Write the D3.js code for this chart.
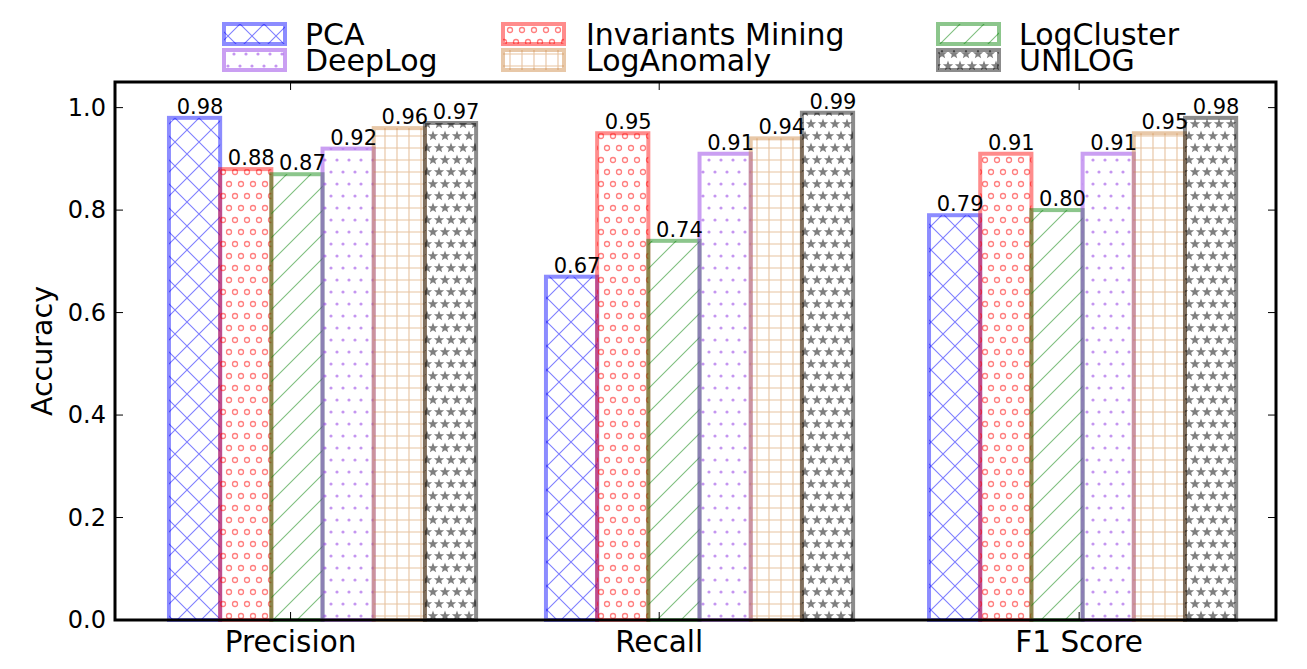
<!DOCTYPE html>
<html>
<head>
<meta charset="utf-8">
<script src="https://cdn.jsdelivr.net/npm/d3@7"></script>
<style>
  body { margin: 0; background: #fff; }
  svg { font-family: "DejaVu Sans", sans-serif; }
</style>
</head>
<body>
<svg></svg>
<script>
// chart values
const metrics = ["Precision", "Recall", "F1 Score"];
const methods = ["PCA", "Invariants Mining", "LogCluster", "DeepLog", "LogAnomaly", "UNILOG"];
const pcaVals = [0.98, 0.67, 0.79];
const invariantsVals = [0.88, 0.95, 0.91];
const logClusterVals = [0.87, 0.74, 0.80];
const deepLogVals = [0.92, 0.91, 0.91];
const logAnomalyVals = [0.96, 0.94, 0.95];
const unilogVals = [0.97, 0.99, 0.98];
const yTicks = [0.0, 0.2, 0.4, 0.6, 0.8, 1.0];
// left edge of each group and where its tick label sits (x units)
const groupPos = [0, 0.992, 2.0];
const tickPos = [0.32, 1.29, 2.395];
const barWidth = 0.1347;

const seriesVals = [pcaVals, invariantsVals, logClusterVals, deepLogVals, logAnomalyVals, unilogVals];
const colors = ["#0000ff", "#ff0000", "#008000", "#8a2be2", "#cd853f", "#000000"];
const hatches = ["x", "o", "/", ".", "+", "*"];
const alpha = 0.45;

// dimensions and margins
const margin = { top: 82, right: 31, bottom: 49, left: 115 },
      width = 1307 - margin.left - margin.right,
      height = 669 - margin.top - margin.bottom;

const svg = d3.select("svg")
    .attr("width", 1307)
    .attr("height", 669);

// hatch patterns
const defs = svg.append("defs");
function starPath(cx, cy, ro, ri) {
    let p = [];
    for (let k = 0; k < 10; k++) {
        const r = k % 2 ? ri : ro;
        const a = -Math.PI / 2 + k * Math.PI / 5;
        p.push([cx + r * Math.cos(a), cy + r * Math.sin(a)]);
    }
    return "M" + p.map(d => d.join(",")).join("L") + "Z";
}
hatches.forEach((h, i) => {
    const c = colors[i];
    const pat = defs.append("pattern")
        .attr("id", "hatch" + i)
        .attr("patternUnits", "userSpaceOnUse");
    const g = pat.append("g").attr("opacity", 0.5);
    if (h === "x") {
        pat.attr("width", 24).attr("height", 24);
        g.append("path").attr("d", "M-2,-2L26,26M26,-2L-2,26")
            .attr("stroke", c).attr("stroke-width", 1.1).attr("fill", "none");
    } else if (h === "/") {
        pat.attr("width", 24).attr("height", 24);
        g.append("path").attr("d", "M-6,6L6,-6M-2,26L26,-2M18,30L30,18")
            .attr("stroke", c).attr("stroke-width", 1.1).attr("fill", "none");
    } else if (h === "+") {
        pat.attr("width", 12).attr("height", 12);
        g.append("path").attr("d", "M0,6H12M6,0V12")
            .attr("stroke", c).attr("stroke-width", 1.1).attr("fill", "none");
    } else {
        pat.attr("width", 12).attr("height", 24);
        const pts = [[6, 6], [0, 18], [12, 18]];
        pts.forEach(([px, py]) => {
            if (h === "o") {
                g.append("circle").attr("cx", px).attr("cy", py).attr("r", 2.5)
                    .attr("fill", "none").attr("stroke", c).attr("stroke-width", 1.3);
            } else if (h === ".") {
                g.append("circle").attr("cx", px).attr("cy", py).attr("r", 1.6)
                    .attr("fill", c);
            } else {
                g.append("path").attr("d", starPath(px, py, 5.4, 2.3)).attr("fill", c);
            }
        });
    }
});

const plot = svg.append("g")
    .attr("transform", `translate(${margin.left},${margin.top})`);

// scales
const x = d3.scaleLinear()
    .domain([-0.142, 2.913])
    .range([0, width]);
const y = d3.scaleLinear()
    .domain([0, 1.05])
    .range([height, 0]);

// bars
const bw = x(barWidth) - x(0);
seriesVals.forEach((vals, i) => {
    plot.selectAll(".bar" + i)
        .data(vals)
      .enter()
      .append("rect")
        .attr("x", (d, j) => x(groupPos[j] + i * barWidth))
        .attr("y", d => y(d))
        .attr("width", bw)
        .attr("height", d => height - y(d))
        .attr("fill", `url(#hatch${i})`)
        .attr("stroke", colors[i])
        .attr("stroke-opacity", alpha)
        .attr("stroke-width", 4);
});

// value labels
seriesVals.forEach((vals, i) => {
    plot.selectAll(".lab" + i)
        .data(vals)
      .enter()
      .append("text")
        .attr("x", (d, j) => x(groupPos[j] + i * barWidth) + bw / 2 + 5.5)
        .attr("y", d => y(d) - 4)
        .attr("text-anchor", "middle")
        .style("font-size", "21px")
        .text(d => d.toFixed(2));
});

// ticks (inward, all four sides)
const tickLen = 8;
yTicks.forEach(t => {
    plot.append("line").attr("x1", 0).attr("x2", tickLen)
        .attr("y1", y(t)).attr("y2", y(t)).attr("stroke", "#000");
    plot.append("line").attr("x1", width).attr("x2", width - tickLen)
        .attr("y1", y(t)).attr("y2", y(t)).attr("stroke", "#000");
    plot.append("text")
        .attr("x", -9)
        .attr("y", y(t))
        .attr("dy", "0.35em")
        .attr("text-anchor", "end")
        .style("font-size", "24px")
        .text(t.toFixed(1));
});
tickPos.forEach((t, j) => {
    plot.append("line").attr("x1", x(t)).attr("x2", x(t))
        .attr("y1", height).attr("y2", height - tickLen).attr("stroke", "#000");
    plot.append("line").attr("x1", x(t)).attr("x2", x(t))
        .attr("y1", 0).attr("y2", tickLen).attr("stroke", "#000");
    plot.append("text")
        .attr("x", x(t))
        .attr("y", height + 32)
        .attr("text-anchor", "middle")
        .style("font-size", "29.5px")
        .text(metrics[j]);
});

// frame
plot.append("rect")
    .attr("width", width)
    .attr("height", height)
    .attr("fill", "none")
    .attr("stroke", "#000")
    .attr("stroke-width", 3);

// y label
svg.append("text")
    .attr("transform", `translate(52,${margin.top + height / 2}) rotate(-90)`)
    .attr("text-anchor", "middle")
    .style("font-size", "28.5px")
    .text("Accuracy");

// legend: 3 columns, 2 rows
const legendOrder = [0, 3, 1, 4, 2, 5];
const colPatchX = [224, 503, 938];
const colTextX = [305, 586, 1019];
const rowY = [24, 50];
const legend = svg.append("g");
legendOrder.forEach((si, k) => {
    const col = Math.floor(k / 2), row = k % 2;
    legend.append("rect")
        .attr("x", colPatchX[col])
        .attr("y", rowY[row])
        .attr("width", 61)
        .attr("height", 20)
        .attr("fill", `url(#hatch${si})`)
        .attr("stroke", colors[si])
        .attr("stroke-opacity", alpha)
        .attr("stroke-width", 4);
    legend.append("text")
        .attr("x", colTextX[col])
        .attr("y", rowY[row] + 21)
        .style("font-size", "30px")
        .text(methods[si]);
});
</script>
</body>
</html>
